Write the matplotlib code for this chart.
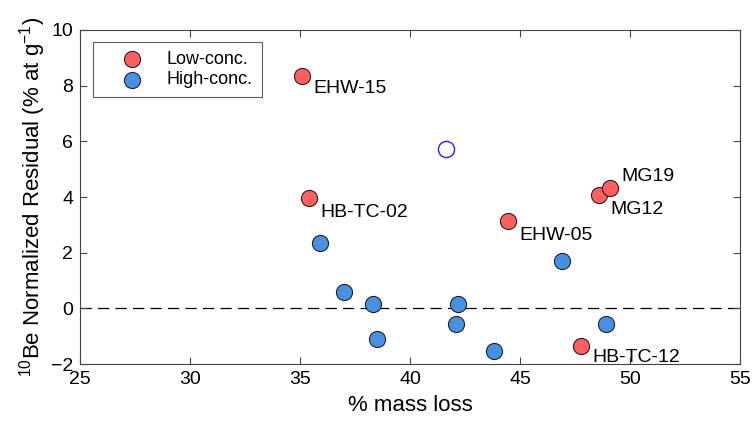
import matplotlib
matplotlib.use("Agg")
import matplotlib.pyplot as plt

plt.rcParams['font.family'] = ['Liberation Sans', 'DejaVu Sans']
plt.rcParams['mathtext.fontset'] = 'custom'
plt.rcParams['mathtext.rm'] = 'Liberation Sans'

# Low-concentration samples (labelled)
low_names = ["EHW-15", "HB-TC-02", "EHW-05", "MG12", "MG19", "HB-TC-12"]
low_x = [35.1, 35.4, 44.45, 48.6, 49.1, 47.77]
low_y = [8.35, 3.96, 3.13, 4.06, 4.32, -1.37]

# High-concentration samples
high_x = [35.9, 37.0, 38.3, 38.5, 42.2, 42.1, 43.8, 46.9, 48.9]
high_y = [2.34, 0.58, 0.14, -1.1, 0.14, -0.58, -1.55, 1.69, -0.58]

# excluded point (open marker)
out_x = [41.64]
out_y = [5.72]

# label offsets in points
offsets = {"EHW-15": (8, -9), "HB-TC-02": (8, -10), "EHW-05": (8, -10),
           "MG12": (8, -10), "MG19": (8, 8), "HB-TC-12": (8, -8)}

fig = plt.figure(figsize=(7.56, 4.26), dpi=100)
ax = fig.add_axes([0.1058, 0.1455, 0.8732, 0.7841])

ax.axhline(0, color="black", linestyle=(0, (9, 5)), linewidth=0.9, zorder=1)

ax.scatter(low_x, low_y, s=135, color="#ff5f5f", edgecolors="#222222",
           linewidths=0.8, zorder=3, label="Low-conc.")
ax.scatter(high_x, high_y, s=135, color="#4a90e2", edgecolors="#222222",
           linewidths=0.8, zorder=3, label="High-conc.")
ax.scatter(out_x, out_y, s=135, facecolors="white", edgecolors="#2222ff",
           linewidths=1.0, zorder=3)

for name, x, y in zip(low_names, low_x, low_y):
    dx, dy = offsets[name]
    ax.annotate(name, (x, y), xytext=(dx, dy), textcoords="offset points",
                fontsize=14, ha="left", va="center")

ax.set_xlim(25, 55)
ax.set_ylim(-2, 10)
ax.set_xticks(range(25, 56, 5))
ax.set_yticks(range(-2, 11, 2))
ax.tick_params(direction="in", length=5, width=0.8, color="#444444",
               labelsize=14, top=True, right=True, pad=5)
for sp in ax.spines.values():
    sp.set_color("#444444")
    sp.set_linewidth(0.8)

ax.set_xlabel("% mass loss", fontsize=16, labelpad=5)
ax.set_ylabel(r"$^{10}$Be Normalized Residual (% at g$^{-1}$)", fontsize=16,
              labelpad=2)

leg = ax.legend(loc="upper left", fontsize=13, frameon=True, fancybox=False,
                edgecolor="#333333", borderpad=0.5, handletextpad=0.2,
                borderaxespad=0, bbox_to_anchor=(0.019, 0.965),
                labelspacing=0.2, handlelength=3.4)
leg.get_frame().set_linewidth(0.8)

fig.savefig("out.png", dpi=100)
